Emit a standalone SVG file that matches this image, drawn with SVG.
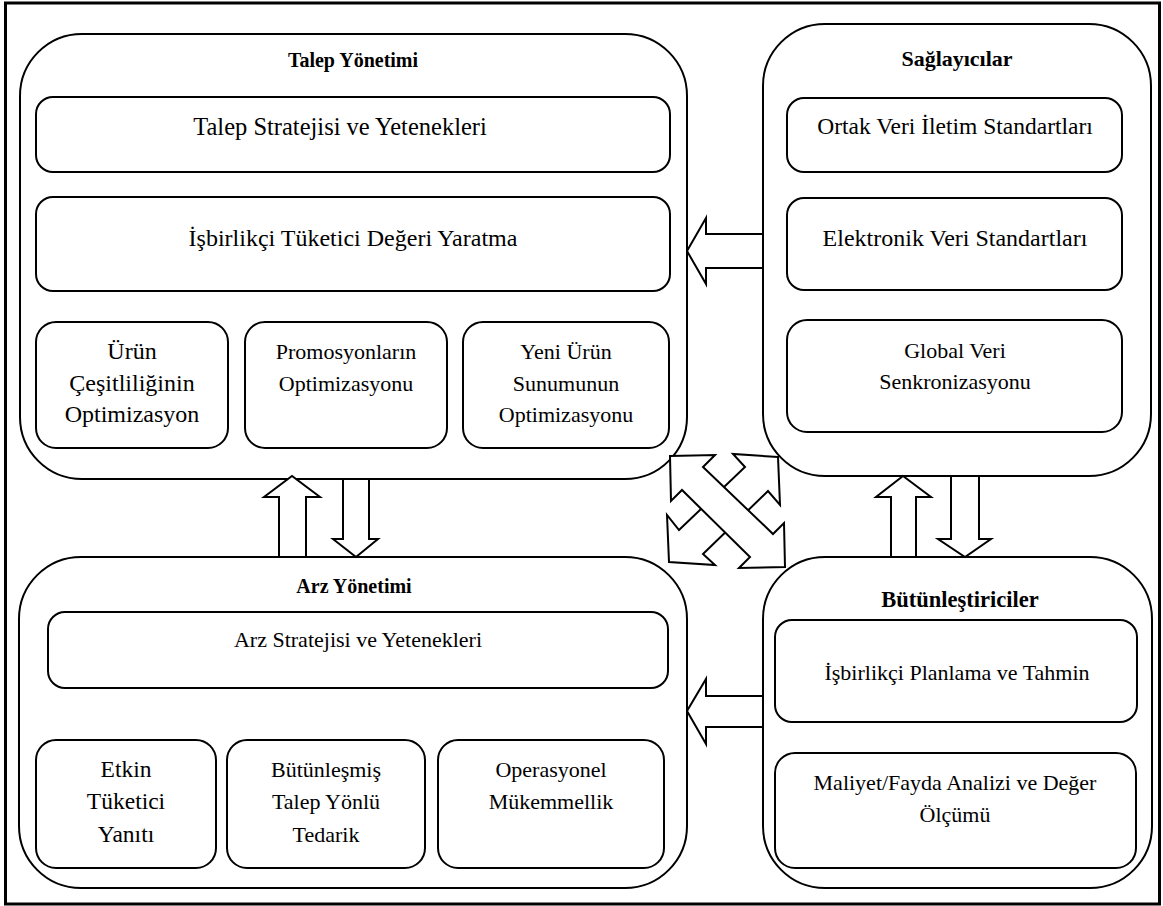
<svg xmlns="http://www.w3.org/2000/svg" width="1163" height="906" viewBox="0 0 1163 906">
  <style>
    .frame { fill: #fff; stroke: #000; stroke-width: 3; }
    .group { fill: none; stroke: #000; stroke-width: 2; }
    .box { fill: none; stroke: #000; stroke-width: 2; }
    .arrow { fill: #fff; stroke: #000; stroke-width: 2; stroke-linejoin: miter; }
    text { font-family: "Liberation Serif", "Times New Roman", serif; font-size: 22px; fill: #000; text-anchor: middle; }
    .title { font-weight: bold; }
    .t20 { font-size: 20px; }
    .t23 { font-size: 23.5px; }
    .t24 { font-size: 24px; }
    .t25 { font-size: 24.5px; }
  </style>

  <!-- page frame -->
  <rect class="frame" x="5.5" y="3" width="1154" height="901"/>

  <!-- Talep Yönetimi -->
  <g id="talep-yonetimi">
    <rect class="group" x="20" y="34" width="667" height="445" rx="62" ry="62"/>
    <text class="title t20" x="353" y="67">Talep Yönetimi</text>
    <g id="talep-stratejisi">
      <rect class="box" x="36" y="97" width="634" height="75" rx="17" ry="17"/>
      <text class="t25" x="340" y="135">Talep Stratejisi ve Yetenekleri</text>
    </g>
    <g id="isbirlikci-tuketici">
      <rect class="box" x="36" y="197" width="634" height="94" rx="17" ry="17"/>
      <text class="t24" x="353" y="246">İşbirlikçi Tüketici Değeri Yaratma</text>
    </g>
    <g id="urun-cesitliligi">
      <rect class="box" x="36" y="322" width="192" height="126" rx="20" ry="20"/>
      <text class="t24" x="132" y="359">Ürün</text>
      <text class="t24" x="132" y="391">Çeşitliliğinin</text>
      <text class="t24" x="132" y="422">Optimizasyon</text>
    </g>
    <g id="promosyon">
      <rect class="box" x="245" y="322" width="202" height="126" rx="20" ry="20"/>
      <text x="346" y="359">Promosyonların</text>
      <text x="346" y="391">Optimizasyonu</text>
    </g>
    <g id="yeni-urun">
      <rect class="box" x="463" y="322" width="206" height="126" rx="20" ry="20"/>
      <text x="566" y="359">Yeni Ürün</text>
      <text x="566" y="391">Sunumunun</text>
      <text x="566" y="422">Optimizasyonu</text>
    </g>
  </g>

  <!-- Sağlayıcılar -->
  <g id="saglayicilar">
    <rect class="group" x="763" y="24" width="388" height="452" rx="62" ry="62"/>
    <text class="title" x="957" y="66">Sağlayıcılar</text>
    <g id="ortak-veri">
      <rect class="box" x="787" y="98" width="335" height="74" rx="17" ry="17"/>
      <text class="t23" x="955" y="134">Ortak Veri İletim Standartları</text>
    </g>
    <g id="elektronik-veri">
      <rect class="box" x="787" y="198" width="335" height="92" rx="17" ry="17"/>
      <text class="t24" x="955" y="246">Elektronik Veri Standartları</text>
    </g>
    <g id="global-veri">
      <rect class="box" x="787" y="320" width="335" height="112" rx="20" ry="20"/>
      <text x="955" y="358">Global Veri</text>
      <text x="955" y="389">Senkronizasyonu</text>
    </g>
  </g>

  <!-- Arz Yönetimi -->
  <g id="arz-yonetimi">
    <rect class="group" x="19" y="557" width="668" height="331" rx="62" ry="62"/>
    <text class="title t20" x="354" y="593">Arz Yönetimi</text>
    <g id="arz-stratejisi">
      <rect class="box" x="48" y="612" width="620" height="76" rx="17" ry="17"/>
      <text x="358" y="647">Arz Stratejisi ve Yetenekleri</text>
    </g>
    <g id="etkin-tuketici">
      <rect class="box" x="36" y="740" width="180" height="128" rx="20" ry="20"/>
      <text class="t23" x="126" y="777">Etkin</text>
      <text class="t23" x="126" y="809">Tüketici</text>
      <text class="t23" x="126" y="842">Yanıtı</text>
    </g>
    <g id="butunlesmis-talep">
      <rect class="box" x="227" y="740" width="198" height="128" rx="20" ry="20"/>
      <text x="326" y="777">Bütünleşmiş</text>
      <text x="326" y="809">Talep Yönlü</text>
      <text x="326" y="842">Tedarik</text>
    </g>
    <g id="operasyonel">
      <rect class="box" x="438" y="740" width="226" height="128" rx="20" ry="20"/>
      <text x="551" y="777">Operasyonel</text>
      <text x="551" y="809">Mükemmellik</text>
    </g>
  </g>

  <!-- Bütünleştiriciler -->
  <g id="butunlestiriciler">
    <rect class="group" x="763" y="557" width="389" height="331" rx="62" ry="62"/>
    <text class="title" x="960" y="607" style="font-size:22.5px">Bütünleştiriciler</text>
    <g id="isbirlikci-planlama">
      <rect class="box" x="775" y="620" width="362" height="102" rx="17" ry="17"/>
      <text x="957" y="680">İşbirlikçi Planlama ve Tahmin</text>
    </g>
    <g id="maliyet-fayda">
      <rect class="box" x="775" y="753" width="361" height="115" rx="20" ry="20"/>
      <text x="955" y="790">Maliyet/Fayda Analizi ve Değer</text>
      <text x="955" y="822">Ölçümü</text>
    </g>
  </g>

  <!-- block arrows between the groups -->
  <g id="connectors">
    <!-- Sağlayıcılar to Talep Yönetimi -->
    <polygon class="arrow" points="763,234 706,234 706,218 687,251 706,284 706,268 763,268"/>
    <!-- Bütünleştiriciler to Arz Yönetimi -->
    <polygon class="arrow" points="763,696 706,696 706,679 687,711 706,744 706,727 763,727"/>
    <!-- Arz Yönetimi up to Talep Yönetimi -->
    <polygon class="arrow" points="279,557 279,497 264,497 292,476 320,497 306,497 306,557"/>
    <!-- Talep Yönetimi down to Arz Yönetimi -->
    <polygon class="arrow" points="343,479 343,539 333,539 356,557 378,539 369,539 369,479"/>
    <!-- Bütünleştiriciler up to Sağlayıcılar -->
    <polygon class="arrow" points="891,557 891,497 876,497 903,476 931,497 916,497 916,557"/>
    <!-- Sağlayıcılar down to Bütünleştiriciler -->
    <polygon class="arrow" points="951,476 951,539 938,539 965,557 991,539 979,539 979,476"/>
    <!-- diagonal double arrow, upper-right to lower-left (drawn underneath) -->
    <polygon class="arrow" points="778,457 733,454 745,467 679,530 667,515 669,562 715,565 703,554 768,491 780,505"/>
    <!-- diagonal double arrow, upper-left to lower-right -->
    <polygon class="arrow" points="670,456 715,455 703,467 773,534 784,523 785,567 739,568 750,557 682,490 671,501"/>
  </g>
</svg>
